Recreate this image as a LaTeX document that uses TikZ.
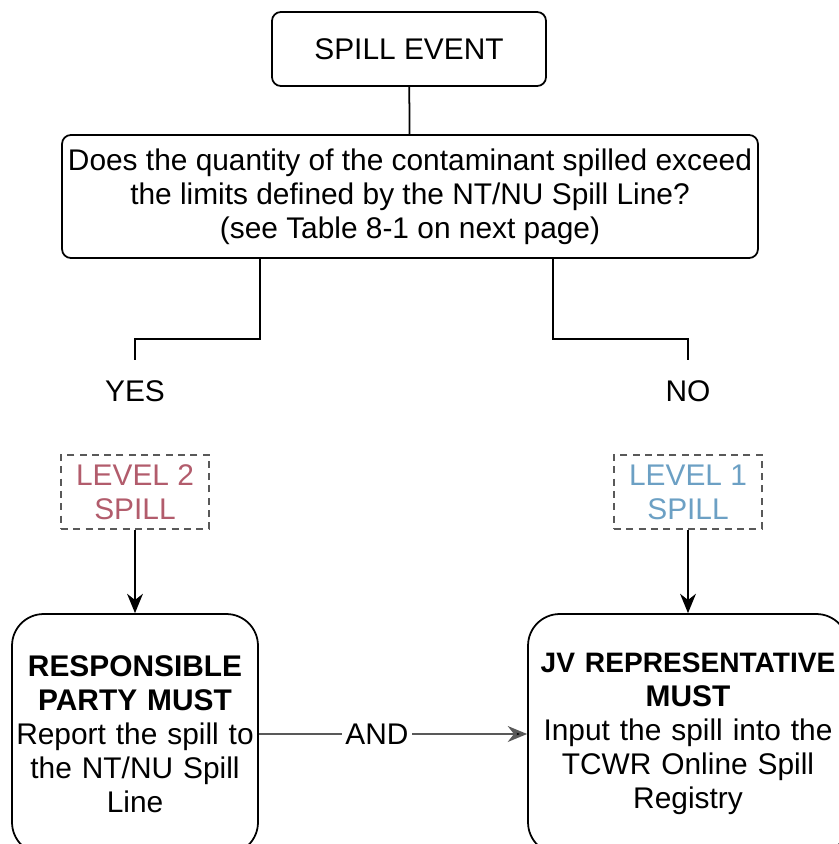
\documentclass[tikz,border=0pt]{standalone}
\usepackage{fontspec}
\setmainfont{Liberation Sans}
\usepackage{tikz}
\usetikzlibrary{%
  positioning,%
  arrows.meta%
}
\definecolor{lvltwo}{RGB}{178,92,108}
\definecolor{lvlone}{RGB}{108,160,196}
\tikzset{
  >={Stealth[length=11pt,width=9pt,inset=3.5pt]},
  every node/.style={font=\fontsize{17}{19.4}\selectfont},
  topbox/.style={draw, line width=1pt, rounded corners=5pt, align=center},
  bigbox/.style={draw, line width=1pt, rounded corners=18pt, align=center,
    minimum height=4.8cm},
  lvlbox/.style={draw=black!65, dashed, dash pattern=on 4pt off 3pt, line width=0.7pt,
    align=center, minimum width=2.96cm, minimum height=1.48cm},
  link/.style={line width=1pt},
  andlink/.style={line width=1.5pt, draw=black!65}
}
\begin{document}
\begin{tikzpicture}[x=0.02cm,y=-0.02cm]
	\useasboundingbox (0,0) rectangle (838,844);
	%Nodes
	\node[topbox, minimum width=5.48cm, minimum height=1.48cm] (event) at (409,49) {SPILL EVENT};
	\node[topbox, minimum width=13.92cm, minimum height=2.46cm] (question) at (410,196.5)
		{Does the quantity of the contaminant spilled exceed\\
		the limits defined by the NT/NU Spill Line?\\
		(see Table 8-1 on next page)};
	\node (yes) at (135,391) {YES};
	\node (no) at (688,391) {NO};
	\node[lvlbox, text=lvltwo] (lvltwo) at (135,492) {LEVEL 2\\SPILL};
	\node[lvlbox, text=lvlone] (lvlone) at (688,492) {LEVEL 1\\SPILL};
	\node[bigbox, text width=4.8cm, inner xsep=0.06cm] (party) at (135,734)
		{\textbf{RESPONSIBLE}\\\textbf{PARTY MUST}\\\mbox{Report the spill to}\\the NT/NU Spill\\Line};
	\node[bigbox, text width=6.34cm, inner xsep=0.03cm] (jvrep) at (688,734)
		{\mbox{\fontsize{16}{19.4}\selectfont\textbf{JV REPRESENTATIVE}}\\\textbf{MUST}\\\mbox{Input the spill into the}\\TCWR Online Spill\\Registry};
	%Bends
	\coordinate (lsplit) at (260,339);
	\coordinate (lbend) at (135,339);
	\coordinate (yesend) at (135,360);
	\coordinate (rsplit) at (553,339);
	\coordinate (rbend) at (688,339);
	\coordinate (noend) at (688,360);
	%Lines
	\draw[link] (event) -- (question);
	\draw[link] (question.south -| lsplit) -- (lsplit) -- (lbend) -- (yesend);
	\draw[link] (question.south -| rsplit) -- (rsplit) -- (rbend) -- (noend);
	%Arrows
	\draw[link]
		(lvltwo) edge[->] (party)
		(lvlone) edge[->] (jvrep)
	;
	\draw[andlink]
		(party) edge[->] node[pos=0.44, fill=white, inner xsep=2pt, text=black] (and) {AND} (jvrep)
	;
\end{tikzpicture}
\end{document}
